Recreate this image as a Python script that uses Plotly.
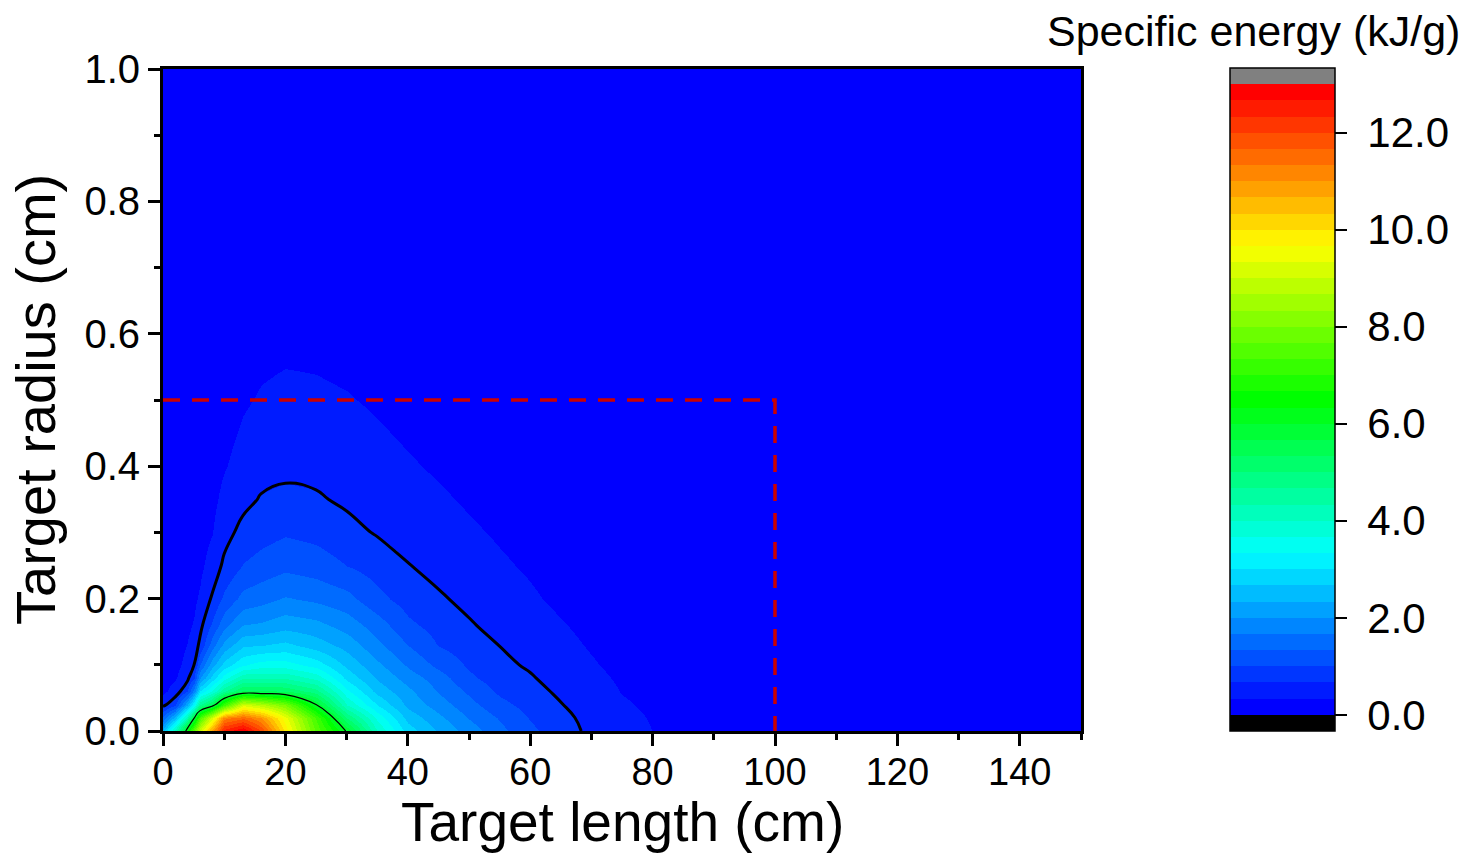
import colorsys
import numpy as np
import plotly.graph_objects as go

# ---------------- data ----------------
target_length_cm = [0, 2, 4, 5, 6, 8, 10, 13, 16, 20, 25, 30, 35, 40, 45, 50,
                    55, 60, 65, 70, 75, 80, 90, 100, 120, 150]
target_radius_cm = [0, 0.02, 0.04, 0.06, 0.08, 0.1, 0.13, 0.16, 0.2, 0.25,
                     0.3, 0.35, 0.4, 0.45, 0.5, 0.55, 0.6, 0.7, 0.85, 1.0]

# specific energy (kJ/g): one radial profile (over target_radius_cm) per target length
energy_profiles = [
    [2.5, 1.4, 0.55, 0.27, 0.2, 0.16, 0.13, 0.11, 0.09, 0.075, 0.065, 0.055, 0.05, 0.045, 0.04, 0.037, 0.034, 0.03, 0.025, 0.02],      # 0
    [4.2, 2.5, 0.95, 0.46, 0.3, 0.22, 0.17, 0.14, 0.11, 0.09, 0.075, 0.065, 0.058, 0.052, 0.047, 0.043, 0.04, 0.035, 0.028, 0.022],    # 2
    [6.3, 4.3, 2.3, 0.95, 0.58, 0.45, 0.34, 0.27, 0.2, 0.15, 0.12, 0.1, 0.085, 0.075, 0.067, 0.06, 0.055, 0.046, 0.037, 0.03],         # 4
    [7.8, 5.8, 3.4, 1.8, 1.0, 0.62, 0.45, 0.36, 0.28, 0.2, 0.16, 0.13, 0.11, 0.09, 0.08, 0.072, 0.065, 0.053, 0.041, 0.032],           # 5
    [9.1, 7.4, 4.7, 3.0, 2.0, 1.35, 0.73, 0.55, 0.38, 0.27, 0.2, 0.16, 0.13, 0.11, 0.095, 0.085, 0.075, 0.06, 0.045, 0.035],           # 6
    [10.9, 9.2, 5.5, 3.7, 2.8, 2.2, 1.5, 1.05, 0.7, 0.47, 0.32, 0.25, 0.2, 0.165, 0.14, 0.12, 0.105, 0.08, 0.06, 0.045],               # 8
    [12.5, 11.2, 7.2, 4.6, 3.5, 2.8, 2.1, 1.55, 1.08, 0.73, 0.55, 0.42, 0.31, 0.25, 0.21, 0.18, 0.15, 0.11, 0.08, 0.055],              # 10
    [13.02, 11.6, 9.2, 5.4, 4.3, 3.3, 2.6, 2.0, 1.45, 1.02, 0.76, 0.57, 0.45, 0.37, 0.3, 0.25, 0.21, 0.15, 0.1, 0.07],                 # 13
    [12.0, 11.0, 8.8, 5.4, 4.3, 3.5, 2.65, 2.05, 1.55, 1.13, 0.87, 0.69, 0.55, 0.44, 0.36, 0.3, 0.25, 0.17, 0.11, 0.075],              # 16
    [9.9, 9.5, 8.0, 5.3, 4.3, 3.5, 2.75, 2.2, 1.7, 1.25, 0.96, 0.73, 0.6, 0.48, 0.4, 0.33, 0.27, 0.19, 0.12, 0.08],                    # 20
    [7.6, 7.3, 6.0, 4.8, 3.9, 3.2, 2.5, 2.1, 1.6, 1.17, 0.9, 0.705, 0.57, 0.46, 0.38, 0.32, 0.26, 0.18, 0.11, 0.07],                   # 25
    [5.95, 5.0, 4.0, 3.4, 2.9, 2.58, 2.2, 1.85, 1.45, 1.0, 0.77, 0.61, 0.5, 0.42, 0.35, 0.29, 0.24, 0.17, 0.1, 0.065],                 # 30
    [4.0, 3.6, 3.0, 2.55, 2.3, 2.08, 1.75, 1.5, 1.1, 0.85, 0.64, 0.5, 0.42, 0.36, 0.3, 0.25, 0.21, 0.15, 0.09, 0.06],                  # 35
    [2.85, 2.55, 2.25, 2.08, 1.85, 1.62, 1.33, 1.07, 0.86, 0.68, 0.54, 0.44, 0.36, 0.3, 0.25, 0.21, 0.18, 0.13, 0.08, 0.05],           # 40
    [2.3, 2.1, 1.85, 1.64, 1.5, 1.25, 0.99, 0.87, 0.71, 0.56, 0.46, 0.37, 0.3, 0.25, 0.21, 0.18, 0.15, 0.11, 0.07, 0.045],             # 45
    [1.85, 1.65, 1.45, 1.27, 1.07, 0.95, 0.82, 0.7, 0.58, 0.46, 0.37, 0.3, 0.25, 0.21, 0.18, 0.15, 0.13, 0.095, 0.06, 0.04],           # 50
    [1.43, 1.3, 1.1, 0.93, 0.82, 0.75, 0.66, 0.56, 0.47, 0.37, 0.3, 0.25, 0.21, 0.18, 0.15, 0.13, 0.11, 0.08, 0.05, 0.035],            # 55
    [1.08, 0.98, 0.88, 0.79, 0.7, 0.62, 0.53, 0.45, 0.37, 0.3, 0.24, 0.2, 0.17, 0.14, 0.12, 0.1, 0.09, 0.07, 0.045, 0.03],             # 60
    [0.8, 0.75, 0.68, 0.6, 0.53, 0.47, 0.4, 0.35, 0.28, 0.23, 0.19, 0.16, 0.13, 0.11, 0.1, 0.09, 0.08, 0.06, 0.04, 0.03],              # 65
    [0.6, 0.57, 0.53, 0.47, 0.41, 0.36, 0.31, 0.27, 0.22, 0.18, 0.15, 0.13, 0.11, 0.095, 0.085, 0.075, 0.068, 0.055, 0.04, 0.03],      # 70
    [0.45, 0.42, 0.37, 0.32, 0.29, 0.26, 0.23, 0.2, 0.17, 0.14, 0.12, 0.1, 0.09, 0.08, 0.07, 0.065, 0.06, 0.05, 0.035, 0.025],         # 75
    [0.33, 0.31, 0.28, 0.25, 0.23, 0.21, 0.18, 0.16, 0.14, 0.12, 0.1, 0.09, 0.08, 0.07, 0.065, 0.06, 0.055, 0.045, 0.035, 0.025],      # 80
    [0.2, 0.19, 0.18, 0.17, 0.16, 0.15, 0.13, 0.12, 0.1, 0.09, 0.08, 0.07, 0.06, 0.055, 0.05, 0.045, 0.04, 0.035, 0.03, 0.02],         # 90
    [0.12, 0.115, 0.11, 0.1, 0.095, 0.09, 0.08, 0.075, 0.065, 0.06, 0.05, 0.045, 0.04, 0.038, 0.035, 0.032, 0.03, 0.025, 0.02, 0.015], # 100
    [0.06, 0.058, 0.055, 0.052, 0.05, 0.047, 0.043, 0.04, 0.036, 0.032, 0.028, 0.025, 0.023, 0.021, 0.02, 0.018, 0.017, 0.015, 0.012, 0.01],  # 120
    [0.03, 0.029, 0.028, 0.027, 0.026, 0.025, 0.023, 0.022, 0.02, 0.018, 0.016, 0.015, 0.014, 0.013, 0.012, 0.011, 0.01, 0.009, 0.008, 0.006],  # 150
]

band_min = 0.0          # kJ/g, lowest colour level
band_max = 13.0         # kJ/g, highest colour level
band_size = 1.0 / 3.0   # kJ/g per colour band
outer_line_level = 2.0 / 3.0   # kJ/g, thick black contour
inner_line_level = 6.0         # kJ/g, thin black contour

box_length = [0, 100, 100]     # dashed red outline (cm)
box_radius = [0.5, 0.5, 0.0]

x_ticks = [0, 20, 40, 60, 80, 100, 120, 140]
y_ticks = [0.0, 0.2, 0.4, 0.6, 0.8, 1.0]
cbar_ticks = [0, 2, 4, 6, 8, 10, 12]

# ---------------- styling ----------------
FONT = "Liberation Sans, Arial, sans-serif"
W, H = 1468, 856
L, R, T, B = 163, 1081, 69, 731   # plot area in pixels
pw, ph = R - L, B - T

z = np.array(energy_profiles).T   # rows follow target_radius_cm

# stepwise colour scale: black underflow band, rainbow bands, grey overflow band
n_rainbow = int(round((band_max - band_min) / band_size))
band_colors = ["rgb(0,0,0)"]
for k in range(n_rainbow):
    t = k / (n_rainbow - 1)
    r, g, b = colorsys.hsv_to_rgb((240.0 * (1 - t)) / 360.0, 1.0, 1.0)
    band_colors.append(f"rgb({round(r*255)},{round(g*255)},{round(b*255)})")
band_colors.append("rgb(128,128,128)")
nb = len(band_colors)
colorscale = []
for i, c in enumerate(band_colors):
    colorscale.append([i / nb, c])
    colorscale.append([(i + 1) / nb, c])
zmin = band_min - band_size
zmax = band_max + band_size

fig = go.Figure()

fig.add_trace(go.Heatmap(
    x=target_length_cm, y=target_radius_cm, z=z,
    zsmooth="best", zmin=zmin, zmax=zmax, colorscale=colorscale,
    hoverinfo="skip",
    colorbar=dict(
        thicknessmode="pixels", thickness=105,
        lenmode="pixels", len=663,
        x=(1230 - L) / pw, xanchor="left",
        y=(B - 68) / ph, yanchor="top",
        xpad=0, ypad=0, borderwidth=0,
        outlinewidth=1.5, outlinecolor="black",
        tickmode="array", tickvals=cbar_ticks,
        ticktext=["\u00a0" + f"{v:.1f}" for v in cbar_ticks],
        ticks="outside", ticklen=12, tickwidth=1.5, tickcolor="black",
        tickfont=dict(family=FONT, size=42, color="black"),
    ),
))

for level, width in [(outer_line_level, 3), (inner_line_level, 1.2)]:
    fig.add_trace(go.Contour(
        x=target_length_cm, y=target_radius_cm, z=z,
        autocontour=False,
        contours=dict(start=level, end=level, size=1, coloring="none"),
        line=dict(color="black", width=width, smoothing=1.3),
        showscale=False, hoverinfo="skip",
    ))

fig.add_trace(go.Scatter(
    x=box_length, y=box_radius, mode="lines",
    line=dict(color="rgb(204,0,0)", width=3.5, dash="17px,12px"),
    hoverinfo="skip", showlegend=False,
))

axis_common = dict(
    showgrid=False, zeroline=False, showline=True, linewidth=3,
    linecolor="black", mirror=True, ticks="outside", ticklen=12,
    tickwidth=3, tickcolor="black",
)
fig.update_xaxes(range=[0, 150], tickmode="array", tickvals=x_ticks,
                 tickfont=dict(family=FONT, size=38, color="black"),
                 ticklabelstandoff=-7,
                 minor=dict(dtick=10, tick0=0, ticks="outside", ticklen=6,
                            tickwidth=3, tickcolor="black"),
                 **axis_common)
fig.update_yaxes(range=[0, 1], tickmode="array", tickvals=y_ticks,
                 ticktext=[f"{v:.1f}" for v in y_ticks],
                 tickfont=dict(family=FONT, size=40, color="black"),
                 minor=dict(dtick=0.1, tick0=0, ticks="outside", ticklen=6,
                            tickwidth=3, tickcolor="black"),
                 **axis_common)

fig.update_layout(
    width=W, height=H,
    margin=dict(l=L, r=W - R, t=T, b=H - B, pad=0),
    paper_bgcolor="white", plot_bgcolor="white",
    showlegend=False,
    annotations=[
        dict(text="Target length (cm)", xref="paper", yref="paper",
             x=0.5, y=(B - 822) / ph, xanchor="center", yanchor="middle",
             showarrow=False, font=dict(family=FONT, size=55, color="black")),
        dict(text="Target radius (cm)", xref="paper", yref="paper",
             x=(35 - L) / pw, y=0.5, xanchor="center", yanchor="middle",
             textangle=-90, showarrow=False,
             font=dict(family=FONT, size=56, color="black")),
        dict(text="Specific energy (kJ/g)", xref="paper", yref="paper",
             x=(1253 - L) / pw, y=(B - 31) / ph, xanchor="center",
             yanchor="middle", showarrow=False,
             font=dict(family=FONT, size=43, color="black")),
    ],
)

fig.write_html("out.html", config={"displayModeBar": False},
               post_script="document.body.style.margin='0px';")
